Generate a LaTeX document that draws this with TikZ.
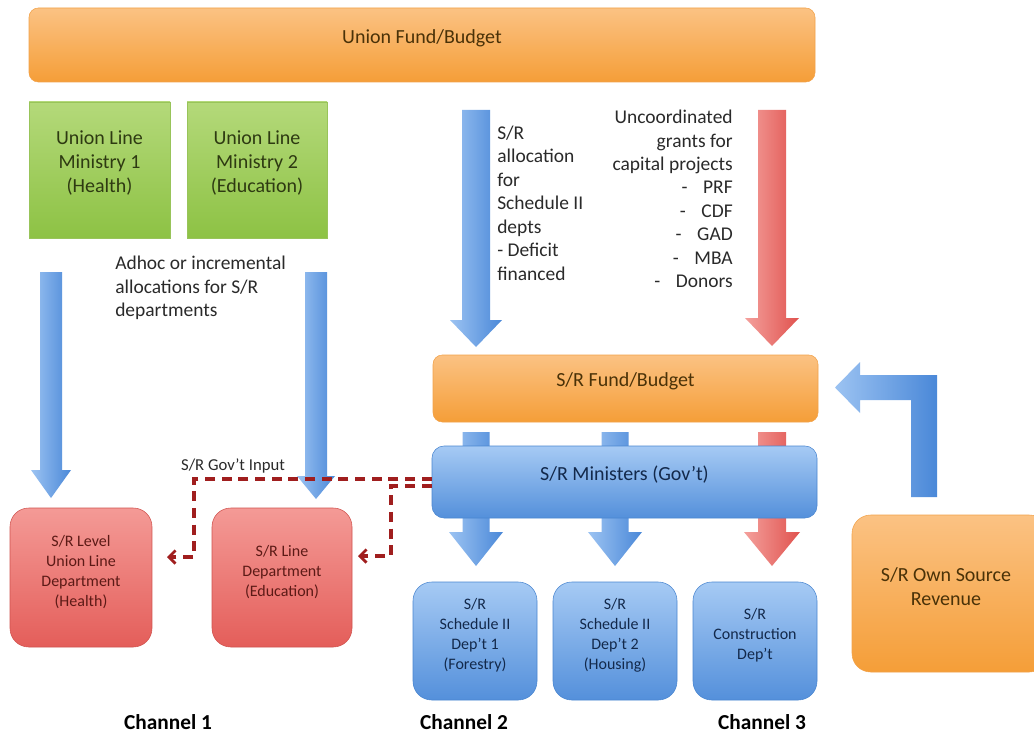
\documentclass[tikz,border=0pt]{standalone}
\usepackage{fontspec}
\setmainfont{Carlito}
\usetikzlibrary{arrows.meta,fit,calc}
\definecolor{orL}{HTML}{FBC283}
\definecolor{orD}{HTML}{F59E38}
\definecolor{orB}{HTML}{F2A24A}
\definecolor{orT}{HTML}{4A3208}
\definecolor{grL}{HTML}{B4D97A}
\definecolor{grD}{HTML}{8DC244}
\definecolor{grB}{HTML}{98C45A}
\definecolor{grT}{HTML}{2E3A12}
\definecolor{rdL}{HTML}{F49A96}
\definecolor{rdD}{HTML}{E45E5A}
\definecolor{rdB}{HTML}{D0534F}
\definecolor{rdT}{HTML}{5C1A16}
\definecolor{blL}{HTML}{A6CAF4}
\definecolor{blD}{HTML}{5490DB}
\definecolor{blB}{HTML}{4A86D0}
\definecolor{blT}{HTML}{13294B}
\definecolor{arBL}{HTML}{9CC3F2}
\definecolor{arBD}{HTML}{4A88D8}
\definecolor{arRL}{HTML}{F4A09C}
\definecolor{arRD}{HTML}{E0524E}
\definecolor{govc}{HTML}{A01E1E}
\definecolor{txt}{HTML}{2A2A2A}
\newcommand{\blockdown}[8]{%
  \shade[left color=#1,right color=#2] ({#3-#7},#4) -- ({#3+#7},#4) -- ({#3+#7},#5) -- ({#3+#8},#5) -- (#3,#6) -- ({#3-#8},#5) -- ({#3-#7},#5) -- cycle;}
\begin{document}
\begin{tikzpicture}[x=0.75pt,y=-0.75pt,
  bigfont/.style={font=\fontsize{15}{18}\selectfont},
  smallfont/.style={font=\fontsize{12}{15}\selectfont},
  orangebox/.style={rounded corners=7pt, top color=orL, bottom color=orD, draw=orB, line width=0.4pt, inner sep=0pt, text=orT, align=center, bigfont},
  greenbox/.style={top color=grL, bottom color=grD, draw=grB, line width=0.4pt, inner sep=0pt, text=grT, align=center, bigfont},
  redbox/.style={rounded corners=14pt, top color=rdL, bottom color=rdD, draw=rdB, line width=0.4pt, inner sep=0pt, text=rdT, align=center, smallfont},
  bluebox/.style={rounded corners=14pt, top color=blL, bottom color=blD, draw=blB, line width=0.4pt, inner sep=0pt, text=blT, align=center, smallfont},
  widebluebox/.style={rounded corners=9pt, top color=blL, bottom color=blD, draw=blB, line width=0.4pt, inner sep=0pt, text=blT, align=center, bigfont},
  lbl/.style={text=txt, inner sep=0pt, font=\fontsize{14.6}{17.6}\selectfont},
  govline/.style={draw=govc, line width=2.7pt, dash pattern=on 7.5pt off 5pt},
  govtip/.style={-{Straight Barb[length=5pt,width=10pt,line width=2pt]}},
  chan/.style={font=\fontsize{16}{19}\selectfont\bfseries, text=black, inner sep=0pt}
]
\useasboundingbox (0,0) rectangle (1034,738);
\fill[white] (0,0) rectangle (1034,738);

% block arrows
\blockdown{arBL}{arBD}{51}{272}{470}{498}{11}{20}
\blockdown{arBL}{arBD}{316}{272}{476}{499}{11}{19}
\blockdown{arBL}{arBD}{476}{110}{320}{347}{14}{26}
\blockdown{arRL}{arRD}{772}{110}{318}{346}{14}{27}
\blockdown{arBL}{arBD}{476}{432}{532}{566}{13.5}{27}
\blockdown{arBL}{arBD}{615}{432}{532}{566}{13.5}{27}
\blockdown{arRL}{arRD}{772}{432}{532}{566}{14}{28}
% bent arrow from own source revenue
\shade[left color=arBL,right color=arBD] (911,497) -- (911,400) -- (860,400) -- (860,413) -- (835,387.5) -- (860,362) -- (860,375) -- (937,375) -- (937,497) -- cycle;

% boxes
\node[orangebox, fit={(29,8)(815,82)}] (ufb) {Union Fund/Budget};
\node[greenbox, fit={(29,102)(170,238)}] (g1) {Union Line\\Ministry 1\\(Health)};
\node[greenbox, fit={(187,102)(327,238)}] (g2) {Union Line\\Ministry 2\\(Education)};
\node[orangebox, fit={(433,355)(818,422)}] (srf) {S/R Fund/Budget};
\node[widebluebox, fit={(432,446)(817,518)}] (min) {S/R Ministers (Gov't)};
\node[redbox, fit={(10,508)(152,647)}] (r1) {S/R Level\\Union Line\\Department\\(Health)};
\node[redbox, fit={(212,508)(352,647)}] (r2) {S/R Line\\Department\\(Education)};
\node[bluebox, fit={(413,582)(537,700)}] (b1) {S/R\\Schedule II\\Dep't 1\\(Forestry)};
\node[bluebox, fit={(553,582)(677,700)}] (b2) {S/R\\Schedule II\\Dep't 2\\(Housing)};
\node[bluebox, fit={(693,582)(817,700)}] (b3) {S/R\\Construction\\Dep't};
\node[orangebox, rounded corners=14pt, fit={(852,515)(1048,672)}] (own) {};
\node[text=orT, align=center, bigfont, inner sep=0pt] (ownt) at (946,587) {S/R Own Source\\Revenue};

% labels
\node[lbl, anchor=west, align=left] (ta) at (115,288) {Adhoc or incremental\\allocations for S/R\\departments};
\node[lbl, anchor=west, align=left] (tb) at (497,203) {S/R\\allocation\\for\\Schedule II\\depts\\- Deficit\\financed};
\node[lbl, anchor=east, align=right] (tc) at (733,199) {Uncoordinated\\grants for\\capital projects\\-\hspace{0.8em}PRF\\-\hspace{0.8em}CDF\\-\hspace{0.8em}GAD\\-\hspace{0.8em}MBA\\-\hspace{0.8em}Donors};
\node[text=txt, inner sep=0pt, font=\fontsize{12.5}{15}\selectfont] (gi) at (233,466) {S/R Gov't Input};

% dashed connectors
\coordinate (j1) at (194,479);
\coordinate (e1) at (167,557);
\coordinate (j2) at (391,486);
\coordinate (e2) at (358,556);
\draw[govline, govtip] ($(min.west)+(0,-3)$) -- (j1) |- (e1);
\draw[govline, govtip] ($(min.west)+(0,4)$) -- (j2) |- (e2);

% channels
\node[chan] (c1) at (168,722) {Channel 1};
\node[chan] (c2) at (464,722) {Channel 2};
\node[chan] (c3) at (762,722) {Channel 3};
\end{tikzpicture}
\end{document}
